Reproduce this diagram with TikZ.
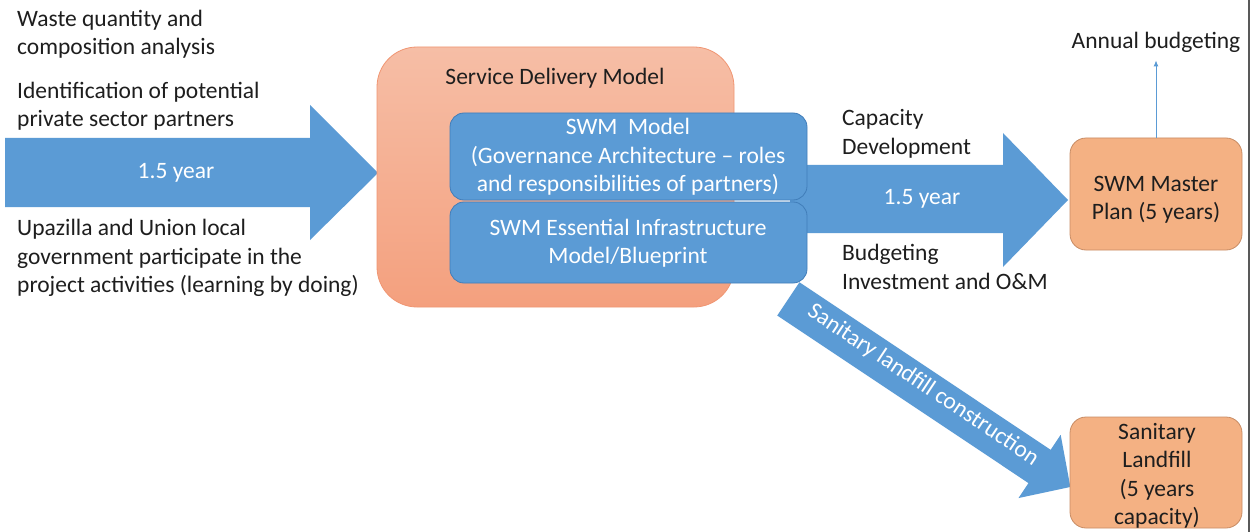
\documentclass[tikz,border=0pt]{standalone}
\usepackage{fontspec}
\setmainfont{Carlito}
\usetikzlibrary{arrows.meta}

\definecolor{flowblue}{RGB}{91,155,213}
\definecolor{flowblueline}{RGB}{65,125,185}
\definecolor{planorange}{RGB}{244,177,131}
\definecolor{planline}{RGB}{200,140,100}
\definecolor{sdmtop}{RGB}{246,190,166}
\definecolor{sdmbot}{RGB}{244,160,126}
\definecolor{sdmline}{RGB}{240,150,115}
\definecolor{inktext}{RGB}{30,30,30}

\tikzset{
  txt/.style={font=\fontsize{23.5}{28.5}\selectfont, text=inktext, inner sep=0pt},
  lefttxt/.style={txt, anchor=west, align=left},
  whitetxt/.style={font=\fontsize{23.5}{28.5}\selectfont, text=white, inner sep=0pt, align=center},
  bluebox/.style={fill=flowblue, draw=flowblueline, line width=0.8pt, rounded corners=14pt},
  orangebox/.style={fill=planorange, draw=planline, line width=0.8pt, rounded corners=16pt},
  blockarrow/.style={fill=flowblue, draw=none},
}

\begin{document}
\begin{tikzpicture}[x=1pt,y=-1pt]
\useasboundingbox (0,0) rectangle (1253,532);
\fill[white] (0,0) rectangle (1253,532);

% frame edge on the right
\draw[gray!70!black, line width=2pt] (1249,0) -- (1249,532);

% ---- block arrows (behind the boxes) ----
% input arrow
\fill[blockarrow] (5,138) -- (310,138) -- (310,105) -- (378,173) -- (310,240) -- (310,207) -- (5,207) -- cycle;
% output arrow towards the master plan
\fill[blockarrow] (790,165) -- (1003,165) -- (1003,133) -- (1068,200) -- (1003,267) -- (1003,233) -- (790,233) -- cycle;
% diagonal arrow towards the landfill
\begin{scope}[shift={(790,300)}, rotate=-33.7]
  \fill[blockarrow] (-2,-20) -- (300,-20) -- (300,-38) -- (337,0) -- (300,38) -- (300,20) -- (-2,20) -- cycle;
  \node[whitetxt, rotate=-33.7] (diagtxt) at (158,-3) {Sanitary landfill construction};
\end{scope}

% ---- service delivery model ----
\shade[top color=sdmtop, bottom color=sdmbot, draw=sdmline, line width=0.8pt, rounded corners=40pt]
  (377,47) rectangle (734,307);
\node[txt] (sdm) at (555,78) {Service Delivery Model};

\path[bluebox] (450,113) rectangle (807,200);
\node[whitetxt] (swm) at (628,157) {SWM\ \ Model\\(Governance Architecture -- roles\\and responsibilities of partners)};
\path[bluebox] (450,202) rectangle (807,283);
\node[whitetxt] (infra) at (628,243) {SWM Essential Infrastructure\\Model/Blueprint};

% ---- texts along the input arrow ----
\node[lefttxt] (waste) at (17,34) {Waste quantity and\\composition analysis};
\node[lefttxt] (ident) at (17,106) {Identification of potential\\private sector partners};
\node[whitetxt] (inyear) at (176,173) {1.5 year};
\node[lefttxt] (upaz) at (17,258) {Upazilla and Union local\\government participate in the\\project activities (learning by doing)};

% ---- texts along the output arrow ----
\node[lefttxt] (cap) at (842,134) {Capacity\\Development};
\node[whitetxt] (outyear) at (922,199) {1.5 year};
\node[lefttxt] (budg) at (842,267) {Budgeting\\Investment and O\&M};

% ---- results ----
\path[orangebox] (1070,138) rectangle (1242,250);
\node[txt, align=center] (master) at (1156,200) {SWM Master\\Plan (5 years)};
\coordinate (mastertop) at (1156,138);

\path[orangebox] (1070,417) rectangle (1242,528);
\node[txt, align=center] (landfill) at (1157,476) {Sanitary\\Landfill\\(5 years\\capacity)};

\node[txt] (annual) at (1156,42) {Annual budgeting};
\draw[flowblue, line width=1pt, -{Latex[length=6pt,width=5pt]}] (mastertop) -- ([yshift=-8pt]annual.south);
\end{tikzpicture}
\end{document}
